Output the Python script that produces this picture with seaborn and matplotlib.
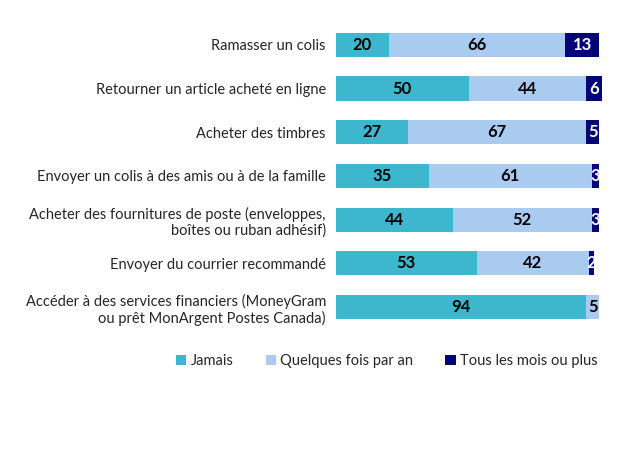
import matplotlib
matplotlib.use("Agg")
import matplotlib.pyplot as plt
import seaborn as sns
import numpy as np
import pandas as pd
from matplotlib.patches import Patch

categories = [
    "Ramasser un colis",
    "Retourner un article acheté en ligne",
    "Acheter des timbres",
    "Envoyer un colis à des amis ou à de la famille",
    "Acheter des fournitures de poste (enveloppes,\nboîtes ou ruban adhésif)",
    "Envoyer du courrier recommandé",
    "Accéder à des services financiers (MoneyGram\nou prêt MonArgent Postes Canada)",
]
jamais = [20, 50, 27, 35, 44, 53, 94]
quelques = [66, 44, 67, 61, 52, 42, 5]
mois = [13, 6, 5, 3, 3, 2, 0]
series_names = ["Jamais", "Quelques fois par an", "Tous les mois ou plus"]
colors = ["#3DB7CD", "#A9CBF0", "#05057A"]

sns.set_theme(style="white")
plt.rcParams["font.family"] = ["Lato", "DejaVu Sans"]

df = pd.DataFrame({"cat": categories, "j": jamais, "q": quelques, "m": mois})
df["c1"] = df["j"]
df["c2"] = df["j"] + df["q"]
df["c3"] = df["j"] + df["q"] + df["m"]

fig = plt.figure(figsize=(6.24, 4.68), dpi=100)
ax = fig.add_axes([0.538, 0.297, 0.427, 0.654])

for col, color in zip(["c3", "c2", "c1"], colors[::-1]):
    sns.barplot(data=df, x=col, y="cat", orient="h", color=color,
                width=0.55, ax=ax, saturation=1, edgecolor="none")

vals = [jamais, quelques, mois]
starts = [np.zeros(len(categories)), np.array(jamais), np.array(jamais) + np.array(quelques)]
txtcol = ["black", "black", "white"]
for s in range(3):
    for i in range(len(categories)):
        v = vals[s][i]
        if v <= 0:
            continue
        cx = starts[s][i] + v / 2
        ax.text(cx, i, str(v), ha="center", va="center", fontsize=12,
                fontweight="bold", color=txtcol[s])

ax.set_xlim(0, 100)
ax.set_ylim(6.5, -0.5)
ax.set_xlabel("")
ax.set_ylabel("")
ax.set_xticks([])
ax.tick_params(axis="y", length=0, pad=7, labelsize=10.5)
for lbl in ax.get_yticklabels():
    lbl.set_horizontalalignment("right")
    lbl.set_multialignment("right")
for sp in ax.spines.values():
    sp.set_visible(False)

handles = [Patch(facecolor=c, edgecolor="none") for c in colors]
fig.legend(handles, series_names, loc="center", bbox_to_anchor=(0.62, 0.229),
           ncol=3, frameon=False, fontsize=10.5, handlelength=0.7,
           handleheight=0.7, handletextpad=0.3, columnspacing=2.2)

fig.savefig("out.png", dpi=100)
